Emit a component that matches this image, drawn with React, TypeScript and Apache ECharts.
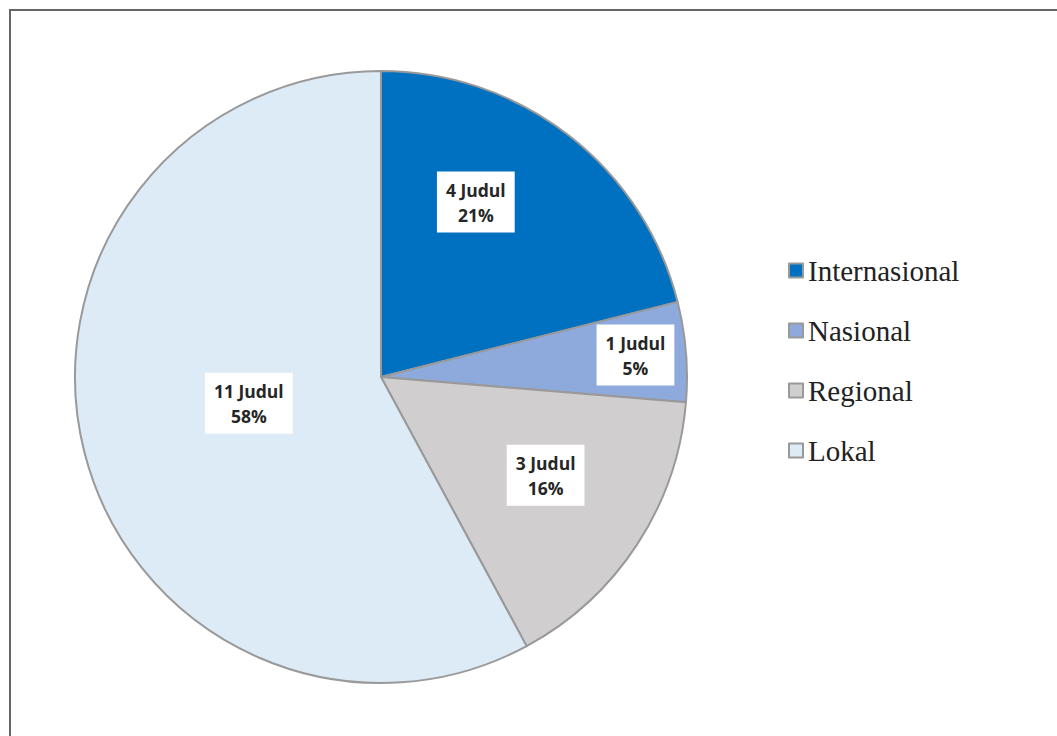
import React, { useEffect, useRef } from "react";
import * as echarts from "echarts";

const categories = ["Internasional", "Nasional", "Regional", "Lokal"];
const values = [4, 1, 3, 11];
const colors = ["#0070C0", "#8EA9DB", "#D0CECE", "#DDEBF7"];
// label nudges from the default inside position (layout only)
const labelOffsets = [
  [-1, -52],
  [99, -9],
  [34, 13],
  [19, -12],
];

const legendFont = {
  fontFamily: "Liberation Serif",
  fontSize: 29,
  color: "#222222",
};

const labelText = {
  fontFamily: "Open Sans",
  fontWeight: "bold",
  fontSize: 17.5,
  lineHeight: 25,
  color: "#262626",
};

export default function App() {
  const ref = useRef<HTMLDivElement>(null);
  useEffect(() => {
    if (!ref.current) return;
    const chart = echarts.init(ref.current, null, { renderer: "svg" });
    const option = {
      animation: false,
      backgroundColor: "#ffffff",
      graphic: [
        {
          type: "rect",
          shape: { x: 10, y: 10, width: 1200, height: 900 },
          style: { fill: "none", stroke: "#666666", lineWidth: 2 },
          silent: true,
        },
      ],
      legend: {
        orient: "vertical",
        left: 783,
        top: 251,
        itemWidth: 14,
        itemHeight: 14,
        itemGap: 31,
        icon: "rect",
        itemStyle: { borderColor: "#999999", borderWidth: 2 },
        textStyle: legendFont,
        data: categories.map((name) => ({ name, textStyle: legendFont })),
      },
      series: [
        {
          type: "pie",
          center: [381, 377],
          radius: 306,
          startAngle: 90,
          clockwise: true,
          percentPrecision: 0,
          avoidLabelOverlap: false,
          emphasis: { disabled: true },
          itemStyle: { borderColor: "#999999", borderWidth: 2 },
          label: {
            show: true,
            position: "inside",
            formatter: "{t|{c} Judul}\n{t|{d}%}",
            rich: { t: labelText },
            backgroundColor: "#ffffff",
            padding: [6, 9, 5, 9],
            align: "center",
          },
          labelLine: { show: false },
          labelLayout: (params: any) => ({
            dx: labelOffsets[params.dataIndex][0],
            dy: labelOffsets[params.dataIndex][1],
          }),
          data: categories.map((name, i) => ({
            name,
            value: values[i],
            itemStyle: { color: colors[i] },
          })),
        },
      ],
    };
    chart.setOption(option);
    let alive = true;
    if ((document as any).fonts && (document as any).fonts.ready) {
      (document as any).fonts.ready.then(() => {
        if (alive) {
          chart.clear();
          chart.setOption(option);
        }
      });
    }
    return () => {
      alive = false;
      chart.dispose();
    };
  }, []);
  return (
    <div
      ref={ref}
      style={{ position: "fixed", left: 0, top: 0, width: 1057, height: 736 }}
    />
  );
}
